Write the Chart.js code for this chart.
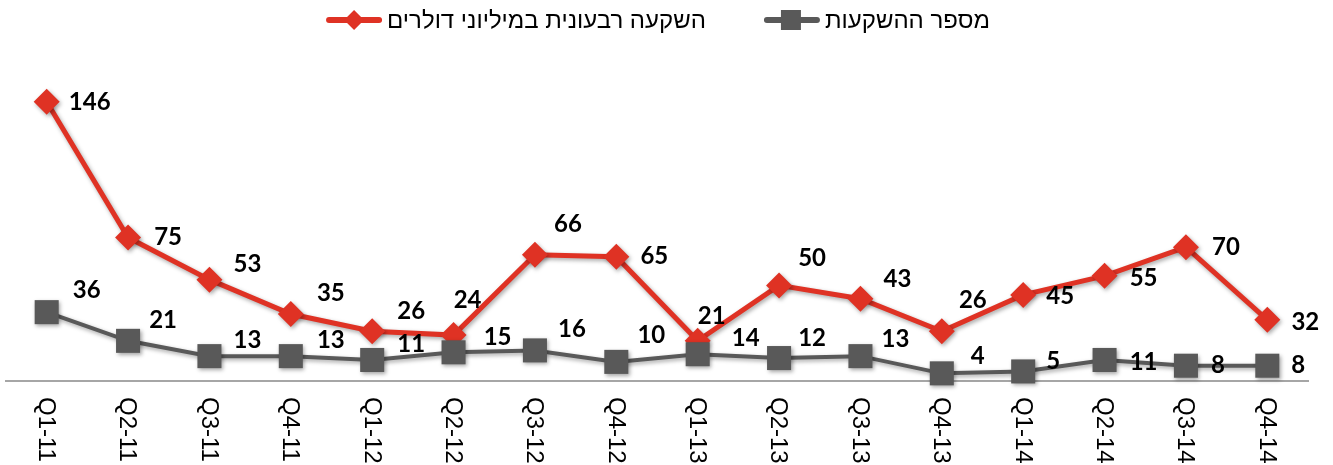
<!DOCTYPE html>
<html>
<head>
<meta charset="utf-8">
<script src="https://cdn.jsdelivr.net/npm/chart.js@4/dist/chart.umd.min.js"></script>
<style>
html, body { margin: 0; padding: 0; background: #fff; }
</style>
</head>
<body>
<canvas id="chart" width="1333" height="465"></canvas>
<script>
var quarters = ['Q1-11', 'Q2-11', 'Q3-11', 'Q4-11', 'Q1-12', 'Q2-12', 'Q3-12', 'Q4-12',
                'Q1-13', 'Q2-13', 'Q3-13', 'Q4-13', 'Q1-14', 'Q2-14', 'Q3-14', 'Q4-14'];
var investCount = [36, 21, 13, 13, 11, 15, 16, 10, 14, 12, 13, 4, 5, 11, 8, 8];
var investAmount = [146, 75, 53, 35, 26, 24, 66, 65, 21, 50, 43, 26, 45, 55, 70, 32];
var countName = 'מספר ההשקעות';
var amountName = 'השקעה רבעונית במיליוני דולרים';

// where each value label sits relative to its point (as placed in the original)
var amountLabelDx = [43, 40, 38, 40, 39, 14, 33, 38, 14, 33, 37, 31, 37, 39, 40, 38];
var amountLabelDy = [0, 0, -15, -21, -20, -35, -31, 0, -25, -27, -19, -31, 1, 2, 0, 2];
var countLabelDx = [40, 35, 38, 40, 39, 44, 37, 35, 48, 33, 35, 36, 30, 39, 32, 31];
var countLabelDy = [-22, -21, -16, -16, -16, -15, -21, -27, -16, -20, -17, -17, -10, 2, 0, 0];

var RED = '#df3224';
var GREY = '#595959';

function drawIcon(ctx, x, y, color, shape) {
    ctx.strokeStyle = color;
    ctx.lineWidth = 6;
    ctx.lineCap = 'round';
    ctx.beginPath(); ctx.moveTo(x + 3, y); ctx.lineTo(x + 53, y); ctx.stroke();
    ctx.fillStyle = color;
    ctx.beginPath();
    if (shape == 'diamond') {
        ctx.moveTo(x + 28, y - 10); ctx.lineTo(x + 38, y); ctx.lineTo(x + 28, y + 10); ctx.lineTo(x + 18, y);
    } else {
        ctx.rect(x + 17, y - 10, 20, 20);
    }
    ctx.fill();
}

// legend drawn by hand: line + marker to the left of each name, like the original
var lineLegend = {
    id: 'lineLegend',
    afterDraw: function(chart) {
        var ctx = chart.ctx;
        ctx.save();
        ctx.font = '24px "Liberation Sans"';
        ctx.textBaseline = 'middle';
        ctx.textAlign = 'left';
        var items = [
            { text: chart.data.datasets[1].label, color: RED, shape: 'diamond' },
            { text: chart.data.datasets[0].label, color: GREY, shape: 'square' }
        ];
        var total = 0;
        items.forEach(function(it, i) {
            it.w = ctx.measureText(it.text).width;
            total += 56 + 5 + it.w + (i ? 0 : 58);
        });
        var x = 658 - total / 2, y = 20;
        items.forEach(function(it) {
            drawIcon(ctx, x, y, it.color, it.shape);
            ctx.fillStyle = '#000';
            ctx.fillText(it.text, x + 61, y + 1);
            x += 61 + it.w + 58;
        });
        ctx.restore();
    }
};

var shadowPlugin = {
    id: 'shadow',
    beforeDatasetsDraw: function(chart) {
        var ctx = chart.ctx;
        ctx.save();
        ctx.shadowColor = 'rgba(0,0,0,0.35)';
        ctx.shadowBlur = 4;
        ctx.shadowOffsetX = 1.5;
        ctx.shadowOffsetY = 2;
    },
    afterDatasetsDraw: function(chart) {
        chart.ctx.restore();
    }
};

var valueLabels = {
    id: 'valueLabels',
    afterDatasetsDraw: function(chart) {
        var ctx = chart.ctx;
        ctx.save();
        ctx.font = 'bold 24px Lato';
        ctx.fillStyle = '#000';
        ctx.textAlign = 'center';
        ctx.textBaseline = 'middle';
        chart.data.datasets.forEach(function(ds, di) {
            var meta = chart.getDatasetMeta(di);
            var dx = ds.labelDx, dy = ds.labelDy;
            meta.data.forEach(function(pt, i) {
                ctx.fillText(String(ds.data[i]), pt.x + dx[i], pt.y + dy[i]);
            });
        });
        ctx.restore();
    }
};

var verticalTicks = {
    id: 'verticalTicks',
    afterDraw: function(chart) {
        var ctx = chart.ctx;
        var xs = chart.scales.x;
        ctx.save();
        ctx.font = '24px "Liberation Sans"';
        ctx.fillStyle = '#000';
        ctx.textAlign = 'left';
        ctx.textBaseline = 'middle';
        xs.ticks.forEach(function(t, i) {
            ctx.save();
            ctx.translate(xs.getPixelForTick(i) - 1, xs.top + 16);
            ctx.rotate(Math.PI / 2);
            ctx.fillText(xs.getLabelForValue(t.value), 0, 0);
            ctx.restore();
        });
        ctx.restore();
    }
};

var myChart = new Chart(document.getElementById('chart'), {
    type: 'line',
    data: {
        labels: quarters,
        datasets: [
            {
                label: countName,
                data: investCount,
                borderColor: GREY,
                backgroundColor: GREY,
                borderWidth: 4,
                pointStyle: 'rect',
                pointRadius: 17,
                pointHoverRadius: 17,
                pointBorderWidth: 0,
                labelDx: countLabelDx,
                labelDy: countLabelDy
            },
            {
                label: amountName,
                data: investAmount,
                borderColor: RED,
                backgroundColor: RED,
                borderWidth: 5,
                pointStyle: 'rectRot',
                pointRadius: 13,
                pointHoverRadius: 13,
                pointBorderWidth: 0,
                labelDx: amountLabelDx,
                labelDy: amountLabelDy
            }
        ]
    },
    options: {
        responsive: false,
        animation: false,
        clip: false,
        layout: {
            autoPadding: false,
            padding: { left: 6, right: 25, top: 75, bottom: 76 }
        },
        plugins: {
            tooltip: { enabled: false },
            legend: { display: false }
        },
        scales: {
            x: {
                offset: true,
                grid: { display: false },
                border: { display: true, color: '#a6a6a6', width: 2 },
                ticks: { display: false }
            },
            y: {
                display: false,
                min: 0,
                max: 160
            }
        }
    },
    plugins: [shadowPlugin, valueLabels, verticalTicks, lineLegend]
});
</script>
</body>
</html>
